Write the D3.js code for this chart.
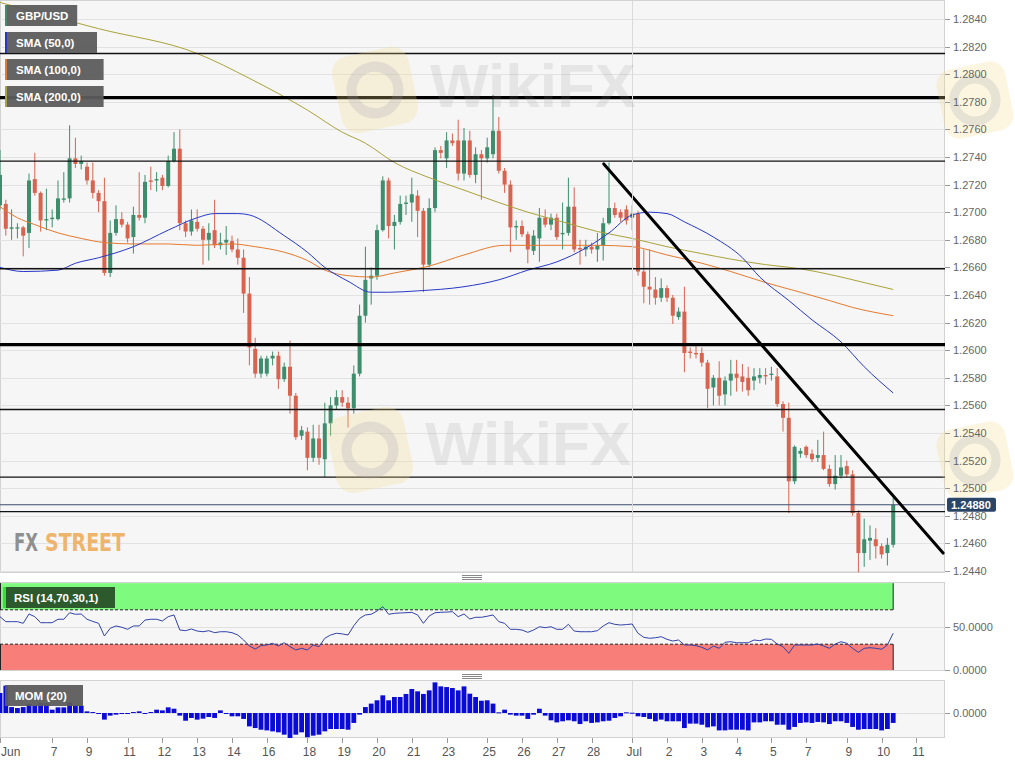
<!DOCTYPE html>
<html>
<head>
<meta charset="utf-8">
<script src="https://cdn.jsdelivr.net/npm/d3@7/dist/d3.min.js"></script>
<style>
body { margin: 0; background: #fff; }
svg { display: block; font-family: "Liberation Sans", Arial, sans-serif; }
</style>
</head>
<body>
<svg id="chart" width="1015" height="765"></svg>
<script>
// GBP/USD 4h candles: [open, high, low, close]
var candles = [
 [1.2705,1.2745,1.2702,1.2727],[1.2706,1.2709,1.2683,1.2688],[1.2688,1.2702,1.2680,1.2689],[1.2689,1.2692,1.2681,1.2689],
 [1.2689,1.2690,1.2668,1.2683],[1.2685,1.2728,1.2674,1.2723],[1.2724,1.2743,1.2712,1.2714],[1.2714,1.2715,1.2686,1.2694],
 [1.2694,1.2717,1.2687,1.2695],[1.2695,1.2702,1.2689,1.2696],[1.2695,1.2723,1.2694,1.2710],[1.2709,1.2729,1.2707,1.2710],
 [1.2710,1.2763,1.2707,1.2739],[1.2739,1.2754,1.2732,1.2735],[1.2735,1.2741,1.2731,1.2737],[1.2733,1.2736,1.2720,1.2723],
 [1.2723,1.2736,1.2710,1.2714],[1.2714,1.2716,1.2700,1.2708],[1.2708,1.2725,1.2654,1.2656],[1.2656,1.2694,1.2653,1.2685],
 [1.2685,1.2705,1.2683,1.2695],[1.2695,1.2700,1.2689,1.2691],[1.2691,1.2693,1.2678,1.2681],[1.2682,1.2704,1.2670,1.2698],
 [1.2698,1.2729,1.2694,1.2696],[1.2696,1.2727,1.2692,1.2722],[1.2723,1.2733,1.2716,1.2722],[1.2723,1.2729,1.2715,1.2724],
 [1.2725,1.2727,1.2716,1.2719],[1.2719,1.2741,1.2718,1.2737],[1.2737,1.2758,1.2736,1.2746],[1.2746,1.2760,1.2687,1.2692],
 [1.2692,1.2694,1.2682,1.2686],[1.2686,1.2702,1.2683,1.2694],[1.2693,1.2702,1.2686,1.2688],[1.2688,1.2690,1.2662,1.2680],
 [1.2680,1.2692,1.2665,1.2685],[1.2687,1.2709,1.2674,1.2676],[1.2676,1.2685,1.2673,1.2678],[1.2678,1.2690,1.2669,1.2680],
 [1.2679,1.2683,1.2671,1.2673],[1.2673,1.2681,1.2662,1.2667],[1.2667,1.2673,1.2627,1.2641],[1.2641,1.2653,1.2589,1.2602],
 [1.2601,1.2609,1.2580,1.2583],[1.2583,1.2596,1.2580,1.2594],[1.2583,1.2596,1.2581,1.2594],[1.2594,1.2599,1.2589,1.2596],
 [1.2596,1.2599,1.2572,1.2579],[1.2579,1.2591,1.2577,1.2588],[1.2588,1.2607,1.2554,1.2567],[1.2567,1.2569,1.2535,1.2537],
 [1.2538,1.2545,1.2535,1.2542],[1.2541,1.2544,1.2513,1.2522],[1.2522,1.2546,1.2519,1.2536],[1.2536,1.2546,1.2517,1.2522],
 [1.2521,1.2562,1.2508,1.2547],[1.2547,1.2566,1.2538,1.2560],[1.2560,1.2571,1.2557,1.2566],[1.2566,1.2571,1.2559,1.2562],
 [1.2562,1.2566,1.2544,1.2558],[1.2558,1.2589,1.2554,1.2583],[1.2583,1.2633,1.2581,1.2625],[1.2625,1.2675,1.2620,1.2651],
 [1.2652,1.2660,1.2633,1.2654],[1.2654,1.2691,1.2651,1.2687],[1.2687,1.2726,1.2686,1.2723],[1.2723,1.2725,1.2681,1.2690],
 [1.2690,1.2698,1.2673,1.2693],[1.2693,1.2712,1.2691,1.2706],[1.2706,1.2712,1.2698,1.2707],[1.2707,1.2725,1.2693,1.2713],
 [1.2712,1.2716,1.2682,1.2701],[1.2701,1.2703,1.2642,1.2662],[1.2662,1.2710,1.2660,1.2703],[1.2703,1.2747,1.2700,1.2745],
 [1.2745,1.2748,1.2739,1.2743],[1.2739,1.2758,1.2732,1.2752],[1.2752,1.2757,1.2748,1.2750],[1.2752,1.2767,1.2723,1.2728],
 [1.2728,1.2761,1.2723,1.2752],[1.2752,1.2759,1.2725,1.2727],[1.2727,1.2747,1.2721,1.2742],[1.2742,1.2745,1.2709,1.2739],
 [1.2739,1.2754,1.2736,1.2747],[1.2742,1.2785,1.2739,1.2759],[1.2759,1.2769,1.2728,1.2730],[1.2730,1.2732,1.2714,1.2720],
 [1.2720,1.2723,1.2671,1.2689],[1.2689,1.2694,1.2680,1.2690],[1.2690,1.2694,1.2682,1.2684],[1.2684,1.2686,1.2663,1.2673],
 [1.2672,1.2687,1.2669,1.2683],[1.2681,1.2703,1.2664,1.2696],[1.2696,1.2702,1.2689,1.2691],[1.2691,1.2699,1.2687,1.2696],
 [1.2696,1.2699,1.2680,1.2682],[1.2684,1.2707,1.2673,1.2685],[1.2685,1.2725,1.2683,1.2704],[1.2704,1.2718,1.2671,1.2673],
 [1.2674,1.2680,1.2662,1.2673],[1.2673,1.2680,1.2668,1.2675],[1.2675,1.2678,1.2670,1.2673],[1.2673,1.2685,1.2664,1.2676],
 [1.2676,1.2696,1.2665,1.2692],[1.2692,1.2736,1.2691,1.2703],[1.2703,1.2707,1.2696,1.2698],[1.2700,1.2702,1.2693,1.2696],
 [1.2702,1.2705,1.2691,1.2694],[1.2696,1.2705,1.2687,1.2699],[1.2699,1.2701,1.2654,1.2657],[1.2657,1.2673,1.2634,1.2646],
 [1.2646,1.2673,1.2633,1.2644],[1.2644,1.2653,1.2633,1.2638],[1.2638,1.2652,1.2635,1.2645],[1.2645,1.2647,1.2635,1.2638],
 [1.2638,1.2640,1.2619,1.2625],[1.2624,1.2631,1.2622,1.2628],[1.2628,1.2646,1.2584,1.2598],[1.2599,1.2602,1.2594,1.2598],
 [1.2598,1.2603,1.2594,1.2597],[1.2598,1.2602,1.2588,1.2591],[1.2591,1.2593,1.2558,1.2572],[1.2573,1.2582,1.2560,1.2580],
 [1.2580,1.2592,1.2560,1.2567],[1.2568,1.2581,1.2560,1.2578],[1.2578,1.2593,1.2567,1.2583],[1.2583,1.2593,1.2570,1.2580],
 [1.2581,1.2590,1.2570,1.2577],[1.2580,1.2588,1.2567,1.2571],[1.2578,1.2587,1.2571,1.2581],[1.2580,1.2587,1.2576,1.2582],
 [1.2582,1.2587,1.2575,1.2581],[1.2582,1.2588,1.2578,1.2583],[1.2581,1.2587,1.2559,1.2561],[1.2561,1.2563,1.2541,1.2551],
 [1.2551,1.2562,1.2482,1.2505],[1.2505,1.2531,1.2503,1.2530],[1.2525,1.2529,1.2522,1.2527],[1.2530,1.2531,1.2522,1.2524],
 [1.2525,1.2528,1.2519,1.2521],[1.2522,1.2535,1.2519,1.2524],[1.2524,1.2541,1.2513,1.2514],[1.2514,1.2517,1.2501,1.2503],
 [1.2503,1.2524,1.2499,1.2509],[1.2509,1.2524,1.2507,1.2515],[1.2516,1.2520,1.2508,1.2510],[1.2510,1.2513,1.2480,1.2482],
 [1.2482,1.2484,1.2439,1.2453],[1.2453,1.2478,1.2443,1.2463],[1.2462,1.2473,1.2448,1.2464],[1.2463,1.2471,1.2449,1.2458],
 [1.2458,1.2460,1.2449,1.2452],[1.2453,1.2464,1.2444,1.2459],[1.2459,1.2493,1.2457,1.2488]
];

// moving averages, sampled along the drawn curves: [bar, value]
var sma50 = [[0,1.2660],[4,1.2657],[10,1.2658],[13,1.2663],[17,1.2667],[23,1.2675],[29,1.2687],[34,1.2696],
 [37,1.2699],[41,1.2699],[43,1.2698],[49,1.2683],[53,1.2671],[56,1.2660],[60,1.2650],[64,1.2642],[67,1.2642],
 [72,1.2643],[80,1.2646],[86,1.2651],[91,1.2658],[96,1.2664],[101,1.2674],[105,1.2685],[109,1.2698],[112,1.2700],
 [115,1.2699],[118,1.2693],[123,1.2682],[128,1.2667],[131,1.2653],[136,1.2636],[140,1.2622],[145,1.2606],
 [149,1.2588],[154,1.2569]];
var sma100 = [[0,1.2704],[3,1.2696],[6,1.2691],[10,1.2685],[14,1.2681],[18,1.2678],[23,1.2677],[29,1.2677],
 [34,1.2676],[40,1.2677],[44,1.2675],[49,1.2671],[53,1.2665],[56,1.2658],[60,1.2654],[64,1.2653],[68,1.2656],
 [74,1.2661],[80,1.2669],[87,1.2676],[91,1.2676],[97,1.2676],[103,1.2676],[109,1.2675],[115,1.2669],[121,1.2663],
 [126,1.2657],[132,1.2649],[138,1.2642],[143,1.2636],[147,1.2631],[154,1.2625]];
var sma200 = [[0,1.2852],[17,1.2833],[34,1.2815],[43,1.2797],[53,1.2774],[59,1.2758],[63,1.2750],[68,1.2736],
 [74,1.2725],[80,1.2716],[86,1.2707],[91,1.2700],[97,1.2693],[103,1.2686],[109,1.2681],[115,1.2675],[121,1.2670],
 [126,1.2666],[132,1.2662],[138,1.2659],[144,1.2654],[149,1.2649],[154,1.2644]];

// RSI (14) per bar
var rsi = [62.0,56.2,56.2,56.2,54.3,65.1,62.0,55.0,55.0,55.0,
 59.0,59.0,66.6,64.8,65.1,59.0,56.5,54.3,39.5,48.5,
 51.2,49.7,47.3,51.2,51.2,58.1,59.0,59.0,57.0,62.0,
 64.0,46.5,45.7,47.7,45.3,44.5,45.7,43.4,44.5,44.5,
 43.4,40.7,34.9,27.9,24.4,28.3,29.1,31.0,27.9,31.7,
 27.1,23.3,25.2,23.3,29.1,27.1,36.9,40.7,42.7,42.0,
 40.7,51.5,60.0,64.0,64.8,68.6,73.6,64.8,65.9,66.3,
 66.6,67.0,64.0,54.3,62.8,66.6,67.1,67.3,67.8,62.0,
 65.1,59.3,61.3,61.3,62.5,64.0,56.2,54.3,47.3,47.3,
 46.5,43.8,46.5,50.3,49.2,50.3,47.3,47.3,53.1,45.3,
 44.5,44.5,44.5,45.7,51.2,55.0,53.1,52.3,52.8,53.5,
 42.7,38.0,36.9,37.5,38.7,35.7,33.7,34.9,29.1,29.1,
 28.3,26.4,23.3,27.9,25.2,32.2,32.9,31.7,31.7,31.7,
 34.9,34.1,36.0,35.7,30.2,27.1,19.4,29.1,29.1,29.1,
 29.1,30.2,27.9,25.2,30.2,32.9,31.0,25.2,20.6,25.2,
 25.9,25.2,24.1,29.1,42.7];

// MOM (20) per bar, in pips
var momPips = [145,198,43,36,43,65,53,72,72,24,
 41,41,77,53,53,12,7,-2,-48,-19,
 -12,-5,-7,7,12,-2,7,24,19,41,
 31,-19,-56,-36,-48,-41,-29,-36,19,-7,
 -24,-24,-43,-97,-109,-121,-126,-133,-140,-157,
 -181,-157,-140,-176,-164,-157,-133,-116,-116,-116,
 -121,-72,-12,43,68,92,128,92,116,116,
 138,174,157,138,164,222,193,188,181,164,
 193,140,116,89,92,68,5,24,-12,-19,
 -19,-43,-12,31,-19,-53,-68,-60,-53,-60,
 -80,-60,-72,-68,-60,-56,-36,-24,5,2,
 -24,-29,-43,-60,-48,-60,-60,-60,-109,-77,
 -77,-85,-104,-97,-126,-126,-121,-121,-121,-126,
 -68,-68,-60,-60,-85,-85,-121,-101,-72,-68,
 -72,-65,-68,-80,-60,-60,-72,-101,-121,-116,
 -116,-116,-126,-116,-72];

// drawn support / resistance levels and the falling trend line
var levelsThin = [1.2815, 1.2737, 1.2659, 1.2557, 1.2508, 1.2483];
var levelsThick = [1.2783, 1.2604];
var trendLine = [[104.1, 1.2735], [162.6, 1.2453]];
var lastPrice = 1.2488;

var priceTicks = [1.2440,1.2460,1.2480,1.2500,1.2520,1.2540,1.2560,1.2580,1.2600,1.2620,
 1.2640,1.2660,1.2680,1.2700,1.2720,1.2740,1.2760,1.2780,1.2800,1.2820,1.2840];
var dateTickBars = [0,9,15,22,28,34,40,46,53,59,65,71,77,84,90,96,102,109,115,121,127,133,139,146,152,158];
var dateTickLabels = ["Jun","7","9","11","12","13","14","16","18","19","20","21","23","25","26","27","28",
 "Jul","2","3","4","5","7","9","10","11"];
var monthBar = 109;

var legendItems = [
  {name: "GBP/USD", color: "#3e8e6e"},
  {name: "SMA (50,0)", color: "#2638c8"},
  {name: "SMA (100,0)", color: "#e57a2e"},
  {name: "SMA (200,0)", color: "#aaa23a"}
];

var upColor = "#3e8e6e", downColor = "#d8644f";
var plotW = 945;
var mainP = {top: 0, bottom: 573};
var rsiP = {top: 582, bottom: 671};
var momP = {top: 680, bottom: 738};

var svg = d3.select("#chart");

var x = d3.scaleLinear().domain([0, 154]).range([0, 893.2]);
var y = d3.scaleLinear().domain([1.2440, 1.2840]).range([571, 19]);
var rsiY = d3.scaleLinear().domain([0, 100]).range([670, 584]);
var momY = d3.scaleLinear().domain([0, 0.01]).range([713, 699.2]);

var defs = svg.append("defs");
[["clipMain", mainP], ["clipRsi", rsiP], ["clipMom", momP]].forEach(function (c) {
  defs.append("clipPath").attr("id", c[0]).append("rect")
    .attr("x", 0).attr("y", c[1].top).attr("width", plotW).attr("height", c[1].bottom - c[1].top);
});

// panel backgrounds
[mainP, rsiP, momP].forEach(function (p) {
  svg.append("rect").attr("x", 0.5).attr("y", p.top + 0.5)
    .attr("width", plotW - 1).attr("height", p.bottom - p.top - 1)
    .attr("fill", "#f6f6f6").attr("stroke", "#d2d2d2");
});

//////// main panel
var gMain = svg.append("g").attr("clip-path", "url(#clipMain)");

gMain.selectAll("line.grid").data(priceTicks).join("line")
  .attr("class", "grid")
  .attr("x1", 0).attr("x2", plotW)
  .attr("y1", function (d) { return Math.round(y(d)) + 0.5; })
  .attr("y2", function (d) { return Math.round(y(d)) + 0.5; })
  .attr("stroke", "#e2e2e2");

// month separator through all panels
svg.selectAll("line.month").data([mainP, rsiP, momP]).join("line")
  .attr("class", "month")
  .attr("x1", Math.round(x(monthBar)) + 0.5).attr("x2", Math.round(x(monthBar)) + 0.5)
  .attr("y1", function (p) { return p.top + 1; }).attr("y2", function (p) { return p.bottom - 1; })
  .attr("stroke", "#dadada");

// candles
var bw = 4;
gMain.selectAll("line.wick").data(candles).join("line")
  .attr("class", "wick")
  .attr("x1", function (d, i) { return x(i); })
  .attr("x2", function (d, i) { return x(i); })
  .attr("y1", function (d) { return y(d[1]); })
  .attr("y2", function (d) { return y(d[2]); })
  .attr("stroke", function (d) { return d[3] >= d[0] ? upColor : downColor; })
  .attr("stroke-width", 1);

gMain.selectAll("rect.body").data(candles).join("rect")
  .attr("class", "body")
  .attr("x", function (d, i) { return x(i) - bw / 2; })
  .attr("y", function (d) { return y(Math.max(d[0], d[3])); })
  .attr("width", bw)
  .attr("height", function (d) { return Math.max(1.2, Math.abs(y(d[0]) - y(d[3]))); })
  .attr("fill", function (d) { return d[3] >= d[0] ? upColor : downColor; });

// moving averages
var smaLine = d3.line()
  .x(function (d) { return x(d[0]); })
  .y(function (d) { return y(d[1]); })
  .curve(d3.curveMonotoneX);
[[sma200, "#aaa23a"], [sma100, "#e57a2e"], [sma50, "#2638c8"]].forEach(function (s) {
  gMain.append("path").attr("d", smaLine(s[0]))
    .attr("fill", "none").attr("stroke", s[1]).attr("stroke-width", 1);
});

// levels
gMain.selectAll("line.lvl").data(levelsThin).join("line")
  .attr("class", "lvl")
  .attr("x1", 0).attr("x2", plotW)
  .attr("y1", function (d) { return y(d); }).attr("y2", function (d) { return y(d); })
  .attr("stroke", "#111").attr("stroke-width", 1.4);
gMain.selectAll("line.lvlThick").data(levelsThick).join("line")
  .attr("class", "lvlThick")
  .attr("x1", 0).attr("x2", plotW)
  .attr("y1", function (d) { return y(d); }).attr("y2", function (d) { return y(d); })
  .attr("stroke", "#000").attr("stroke-width", 3.2);

// last price line
gMain.append("line")
  .attr("x1", 0).attr("x2", plotW)
  .attr("y1", y(lastPrice)).attr("y2", y(lastPrice))
  .attr("stroke", "#3a4d72").attr("stroke-width", 1);

// trend line
gMain.append("line")
  .attr("x1", x(trendLine[0][0])).attr("y1", y(trendLine[0][1]))
  .attr("x2", x(trendLine[1][0])).attr("y2", y(trendLine[1][1]))
  .attr("stroke", "#000").attr("stroke-width", 3).attr("stroke-linecap", "round");

// watermarks (faint)
function logo(cx, cy, s) {
  var g = svg.append("g").attr("transform", "translate(" + cx + "," + cy + ") rotate(-12)");
  g.append("rect").attr("x", -s / 2).attr("y", -s / 2).attr("width", s).attr("height", s)
    .attr("rx", s * 0.22).attr("fill", "#f3dc8c").attr("opacity", 0.26);
  g.append("circle").attr("r", s * 0.3).attr("fill", "none")
    .attr("stroke", "#9a9aa8").attr("stroke-width", s * 0.13).attr("opacity", 0.22);
}
logo(375, 90, 78);
logo(370, 450, 78);
logo(975, 100, 70);
logo(975, 460, 70);
svg.selectAll("text.wm").data([[430, 107], [425, 465]]).join("text")
  .attr("class", "wm")
  .attr("x", function (d) { return d[0]; }).attr("y", function (d) { return d[1]; })
  .attr("font-size", 62).attr("font-weight", "bold")
  .attr("fill", "#8a8a8a").attr("opacity", 0.15)
  .text("WikiFX");

// FXStreet mark
var fxFont = "'DejaVu Sans Condensed', 'Liberation Sans Narrow', sans-serif";
svg.append("text").attr("x", 14).attr("y", 551)
  .attr("font-family", fxFont).attr("font-size", 25).attr("font-weight", "bold")
  .attr("textLength", 24).attr("lengthAdjust", "spacingAndGlyphs")
  .attr("fill", "#8f8f8f").text("FX");
svg.append("text").attr("x", 45).attr("y", 551)
  .attr("font-family", fxFont).attr("font-size", 25).attr("font-weight", "bold")
  .attr("textLength", 80).attr("lengthAdjust", "spacingAndGlyphs")
  .attr("fill", "#efb46c").text("STREET");

// price axis
var axisG = svg.append("g").attr("font-size", 11).attr("fill", "#666");
axisG.selectAll("line").data(priceTicks).join("line")
  .attr("x1", plotW).attr("x2", plotW + 5)
  .attr("y1", function (d) { return Math.round(y(d)) + 0.5; })
  .attr("y2", function (d) { return Math.round(y(d)) + 0.5; })
  .attr("stroke", "#999");
axisG.selectAll("text").data(priceTicks).join("text")
  .attr("x", plotW + 8).attr("y", function (d) { return y(d) + 4; })
  .text(function (d) { return d.toFixed(4); });

// last price tag
svg.append("rect").attr("x", 947).attr("y", y(lastPrice) - 7).attr("width", 49).attr("height", 14)
  .attr("rx", 2).attr("fill", "#2b4567");
svg.append("text").attr("x", 951).attr("y", y(lastPrice) + 4)
  .attr("font-size", 11).attr("font-weight", "bold").attr("fill", "#fff")
  .text(lastPrice.toFixed(5));

// legend
var leg = svg.selectAll("g.leg").data(legendItems).join("g")
  .attr("class", "leg")
  .attr("transform", function (d, i) { return "translate(5," + (5 + i * 27) + ")"; });
leg.append("rect").attr("width", function (d) { return d.name.length * 6.6 + 26; }).attr("height", 21)
  .attr("fill", "#5c5c5c").attr("opacity", 0.95);
leg.append("rect").attr("width", 2).attr("height", 21).attr("fill", function (d) { return d.color; });
leg.append("text").attr("x", 11).attr("y", 15)
  .attr("font-size", 11.5).attr("font-weight", "bold").attr("fill", "#fff")
  .text(function (d) { return d.name; });

// panel handles
[rsiP.top - 5, momP.top - 4].forEach(function (hy) {
  [-2, 0, 2].forEach(function (o) {
    svg.append("line").attr("x1", 462).attr("x2", 482)
      .attr("y1", hy + o + 0.5).attr("y2", hy + o + 0.5)
      .attr("stroke", "#888");
  });
});

//////// RSI panel
var gRsi = svg.append("g").attr("clip-path", "url(#clipRsi)");
gRsi.append("line").attr("x1", 0).attr("x2", plotW)
  .attr("y1", Math.round(rsiY(50)) + 0.5).attr("y2", Math.round(rsiY(50)) + 0.5)
  .attr("stroke", "#e0e0e0");
var zoneX0 = x(0), zoneX1 = x(rsi.length - 1);
gRsi.append("rect").attr("x", zoneX0).attr("y", rsiY(101))
  .attr("width", zoneX1 - zoneX0).attr("height", rsiY(70) - rsiY(101))
  .attr("fill", "#7efb7e");
gRsi.append("rect").attr("x", zoneX0).attr("y", rsiY(30))
  .attr("width", zoneX1 - zoneX0).attr("height", rsiY(0) - rsiY(30))
  .attr("fill", "#f87e7a");
[70, 30].forEach(function (v) {
  gRsi.append("line").attr("x1", zoneX0).attr("x2", zoneX1)
    .attr("y1", rsiY(v)).attr("y2", rsiY(v))
    .attr("stroke", "#222").attr("stroke-dasharray", "3,2");
});
[[101, 70], [30, 0]].forEach(function (r) {
  [zoneX0 + 0.5, zoneX1].forEach(function (xx) {
    gRsi.append("line").attr("x1", xx).attr("x2", xx)
      .attr("y1", rsiY(r[0])).attr("y2", rsiY(r[1]))
      .attr("stroke", "#222");
  });
});
gRsi.append("path")
  .attr("d", d3.line().x(function (d, i) { return x(i); }).y(function (d) { return rsiY(d); })(rsi))
  .attr("fill", "none").attr("stroke", "#3142a8").attr("stroke-width", 1);

var rsiTicks = [50, 0];
svg.selectAll("line.rt").data(rsiTicks).join("line").attr("class", "rt")
  .attr("x1", plotW).attr("x2", plotW + 5)
  .attr("y1", function (d) { return Math.round(rsiY(d)) + 0.5; })
  .attr("y2", function (d) { return Math.round(rsiY(d)) + 0.5; })
  .attr("stroke", "#999");
svg.selectAll("text.rt").data(rsiTicks).join("text").attr("class", "rt")
  .attr("x", plotW + 8).attr("y", function (d) { return rsiY(d) + 4; })
  .attr("font-size", 11).attr("fill", "#666")
  .text(function (d) { return d.toFixed(4); });

var rl = svg.append("g").attr("transform", "translate(3," + (rsiP.top + 5) + ")");
rl.append("rect").attr("width", 112).attr("height", 21).attr("fill", "#2d5a2d");
rl.append("rect").attr("width", 3).attr("height", 21).attr("fill", "#3ddc3d");
rl.append("text").attr("x", 11).attr("y", 15)
  .attr("font-size", 11.5).attr("font-weight", "bold").attr("fill", "#fff")
  .text("RSI (14,70,30,1)");

//////// MOM panel
var gMom = svg.append("g").attr("clip-path", "url(#clipMom)");
gMom.append("line").attr("x1", 0).attr("x2", plotW)
  .attr("y1", Math.round(momY(0)) + 0.5).attr("y2", Math.round(momY(0)) + 0.5)
  .attr("stroke", "#e0e0e0");
gMom.selectAll("rect.mom").data(momPips).join("rect")
  .attr("class", "mom")
  .attr("x", function (d, i) { return x(i) - 2.4; })
  .attr("width", 4.8)
  .attr("y", function (d) { return Math.min(momY(d / 10000), momY(0)); })
  .attr("height", function (d) { return Math.max(1, Math.abs(momY(d / 10000) - momY(0))); })
  .attr("fill", "#0b0bd6");

svg.append("line").attr("x1", plotW).attr("x2", plotW + 5)
  .attr("y1", Math.round(momY(0)) + 0.5).attr("y2", Math.round(momY(0)) + 0.5)
  .attr("stroke", "#999");
svg.append("text").attr("x", plotW + 8).attr("y", momY(0) + 4)
  .attr("font-size", 11).attr("fill", "#666").text((0).toFixed(4));

var ml = svg.append("g").attr("transform", "translate(5," + (momP.top + 5) + ")");
ml.append("rect").attr("width", 78).attr("height", 21).attr("fill", "#5c5c5c").attr("opacity", 0.95);
ml.append("text").attr("x", 10).attr("y", 15)
  .attr("font-size", 11.5).attr("font-weight", "bold").attr("fill", "#fff")
  .text("MOM (20)");

// date axis
var dateG = svg.append("g");
dateG.selectAll("line").data(dateTickBars).join("line")
  .attr("x1", function (d) { return Math.round(x(d)) + 0.5; })
  .attr("x2", function (d) { return Math.round(x(d)) + 0.5; })
  .attr("y1", momP.bottom).attr("y2", momP.bottom + 5)
  .attr("stroke", "#999");
dateG.selectAll("text").data(dateTickBars).join("text")
  .attr("x", function (d, i) { return i === 0 ? x(d) + 1 : x(d) + 2; })
  .attr("y", 756)
  .attr("text-anchor", function (d, i) { return i === 0 ? "start" : "middle"; })
  .attr("font-size", 12).attr("fill", "#555")
  .text(function (d, i) { return dateTickLabels[i]; });
</script>
</body>
</html>
